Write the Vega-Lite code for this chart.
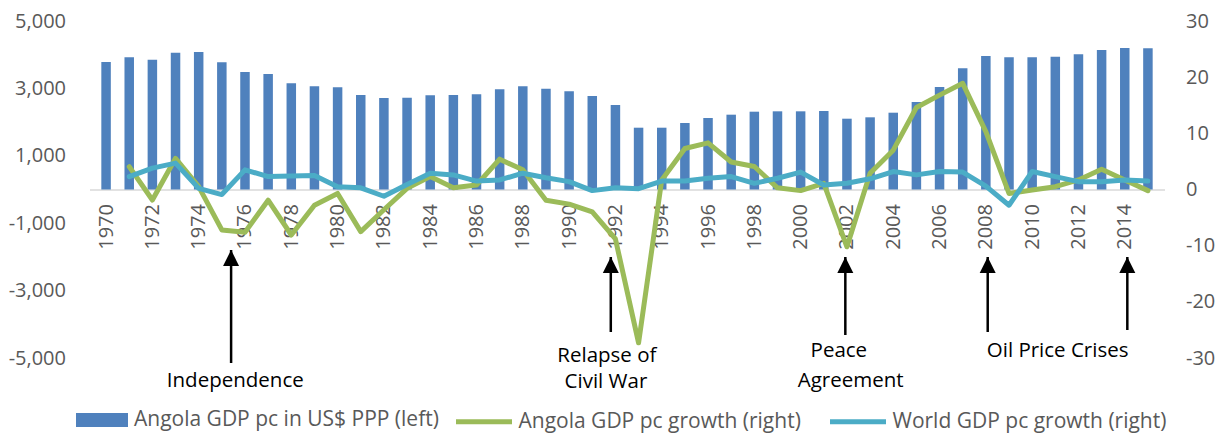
{
  "$schema": "https://vega.github.io/schema/vega-lite/v6.json",
  "width": 1075,
  "height": 337,
  "autosize": {"type": "none"},
  "padding": {"left": 89.5, "top": 21, "right": 61.5, "bottom": 76},
  "background": "white",
  "config": {
    "view": {"stroke": null},
    "font": "Open Sans",
    "axis": {"labelFont": "Open Sans", "labelColor": "#595959", "labelFontSize": 20, "grid": false, "ticks": false, "title": null},
    "legend": {"labelFont": "Open Sans", "labelColor": "#595959", "labelFontSize": 21, "padding": 0, "labelLimit": 600}
  },
  "datasets": {
    "main": [
      {"year": 1970, "gdp": 3783, "ang": null, "wld": null},
      {"year": 1971, "gdp": 3923, "ang": 4.06, "wld": 2.3},
      {"year": 1972, "gdp": 3852, "ang": -1.87, "wld": 3.8},
      {"year": 1973, "gdp": 4059, "ang": 5.55, "wld": 4.7},
      {"year": 1974, "gdp": 4080, "ang": 0.5, "wld": 0.2},
      {"year": 1975, "gdp": 3774, "ang": -7.2, "wld": -0.9},
      {"year": 1976, "gdp": 3487, "ang": -7.6, "wld": 3.5},
      {"year": 1977, "gdp": 3427, "ang": -1.9, "wld": 2.3},
      {"year": 1978, "gdp": 3151, "ang": -8.1, "wld": 2.4},
      {"year": 1979, "gdp": 3062, "ang": -2.8, "wld": 2.5},
      {"year": 1980, "gdp": 3033, "ang": -0.7, "wld": 0.5},
      {"year": 1981, "gdp": 2804, "ang": -7.5, "wld": 0.3},
      {"year": 1982, "gdp": 2715, "ang": -3.6, "wld": -1.2},
      {"year": 1983, "gdp": 2724, "ang": 0.2, "wld": 0.9},
      {"year": 1984, "gdp": 2795, "ang": 2.3, "wld": 2.9},
      {"year": 1985, "gdp": 2804, "ang": 0.3, "wld": 2.6},
      {"year": 1986, "gdp": 2825, "ang": 0.8, "wld": 1.5},
      {"year": 1987, "gdp": 2973, "ang": 5.4, "wld": 1.7},
      {"year": 1988, "gdp": 3062, "ang": 3.5, "wld": 2.9},
      {"year": 1989, "gdp": 2991, "ang": -1.9, "wld": 2.1},
      {"year": 1990, "gdp": 2914, "ang": -2.6, "wld": 1.4},
      {"year": 1991, "gdp": 2774, "ang": -4.0, "wld": -0.2},
      {"year": 1992, "gdp": 2507, "ang": -8.8, "wld": 0.3},
      {"year": 1993, "gdp": 1834, "ang": -27.3, "wld": 0.15},
      {"year": 1994, "gdp": 1834, "ang": 1.7, "wld": 1.5},
      {"year": 1995, "gdp": 1973, "ang": 7.3, "wld": 1.5},
      {"year": 1996, "gdp": 2122, "ang": 8.3, "wld": 2.0},
      {"year": 1997, "gdp": 2220, "ang": 4.9, "wld": 2.3},
      {"year": 1998, "gdp": 2309, "ang": 4.1, "wld": 1.1},
      {"year": 1999, "gdp": 2320, "ang": 0.3, "wld": 2.0},
      {"year": 2000, "gdp": 2320, "ang": -0.2, "wld": 3.1},
      {"year": 2001, "gdp": 2329, "ang": 1.1, "wld": 0.8},
      {"year": 2002, "gdp": 2101, "ang": -10.2, "wld": 1.1},
      {"year": 2003, "gdp": 2142, "ang": 2.9, "wld": 1.9},
      {"year": 2004, "gdp": 2279, "ang": 7.0, "wld": 3.2},
      {"year": 2005, "gdp": 2596, "ang": 14.6, "wld": 2.6},
      {"year": 2006, "gdp": 3042, "ang": 16.8, "wld": 3.2},
      {"year": 2007, "gdp": 3596, "ang": 18.9, "wld": 3.1},
      {"year": 2008, "gdp": 3961, "ang": 10.3, "wld": 0.6},
      {"year": 2009, "gdp": 3923, "ang": -0.7, "wld": -2.8},
      {"year": 2010, "gdp": 3923, "ang": -0.1, "wld": 3.2},
      {"year": 2011, "gdp": 3941, "ang": 0.5, "wld": 2.3},
      {"year": 2012, "gdp": 4012, "ang": 1.7, "wld": 1.4},
      {"year": 2013, "gdp": 4139, "ang": 3.6, "wld": 1.4},
      {"year": 2014, "gdp": 4199, "ang": 1.7, "wld": 1.7},
      {"year": 2015, "gdp": 4190, "ang": -0.2, "wld": 1.5}
    ],
    "arrows": [
      {"year": 1975.4, "tip": -1795, "tail": -5148},
      {"year": 1991.8, "tip": -2003, "tail": -4228},
      {"year": 2001.93, "tip": -2003, "tail": -4318},
      {"year": 2008.08, "tip": -2003, "tail": -4228},
      {"year": 2014.11, "tip": -2003, "tail": -4169}
    ],
    "labels": [
      {"year": 1975.58, "y": -5852, "label": "Independence"},
      {"year": 1991.63, "y": -5110, "label": "Relapse of"},
      {"year": 1991.59, "y": -5905, "label": "Civil War"},
      {"year": 2001.65, "y": -4979, "label": "Peace"},
      {"year": 2002.16, "y": -5846, "label": "Agreement"},
      {"year": 2011.1, "y": -4979, "label": "Oil Price Crises"}
    ]
  },
  "layer": [
    {
      "layer": [
        {
          "data": {"name": "main"},
          "mark": {"type": "bar", "size": 9.5, "clip": false},
          "encoding": {
            "x": {"field": "year", "type": "quantitative",
              "scale": {"domain": [1969.5, 2015.5], "nice": false, "zero": false},
              "axis": {"values": [1970,1972,1974,1976,1978,1980,1982,1984,1986,1988,1990,1992,1994,1996,1998,2000,2002,2004,2006,2008,2010,2012,2014],
                "format": "d", "labelAngle": 270, "offset": -168.5, "domainColor": "#D9D9D9", "domainWidth": 1.5, "labelPadding": 14, "title": null, "labelFlush": false, "labelOverlap": false}},
            "y": {"field": "gdp", "type": "quantitative",
              "scale": {"domain": [-5000, 5000], "nice": false, "zero": false},
              "axis": {"orient": "left", "values": [-5000, -3000, -1000, 1000, 3000, 5000], "labelExpr": "replace(format(datum.value, ','), '\u2212', '-')", "domain": false, "labelPadding": 24, "title": null}},
            "fill": {"datum": "Angola GDP pc in US$ PPP (left)",
              "scale": {"domain": ["Angola GDP pc in US$ PPP (left)"], "range": ["#4F81BD"]},
              "legend": {"title": null, "orient": "none", "legendX": -13.5, "legendY": 373, "symbolType": "M-1,-0.27H1V0.27H-1Z", "symbolSize": 2704, "symbolStrokeWidth": 0, "labelOffset": 6}}
          }
        },
        {
          "data": {"name": "arrows"},
          "mark": {"type": "rule", "color": "black", "strokeWidth": 2.5, "clip": false},
          "encoding": {
            "x": {"field": "year", "type": "quantitative"},
            "y": {"field": "tail", "type": "quantitative"},
            "y2": {"field": "tip"}
          }
        },
        {
          "data": {"name": "arrows"},
          "mark": {"type": "point", "shape": "M0,0L1,2L-1,2Z", "size": 256, "filled": true, "color": "black", "opacity": 1, "strokeWidth": 0, "clip": false},
          "encoding": {
            "x": {"field": "year", "type": "quantitative"},
            "y": {"field": "tip", "type": "quantitative"}
          }
        },
        {
          "data": {"name": "labels"},
          "mark": {"type": "text", "align": "center", "baseline": "alphabetic", "font": "Open Sans", "fontSize": 20.5, "color": "black", "clip": false},
          "encoding": {
            "x": {"field": "year", "type": "quantitative"},
            "y": {"field": "y", "type": "quantitative"},
            "text": {"field": "label"}
          }
        }
      ]
    },
    {
      "data": {"name": "main"},
      "layer": [
        {
          "mark": {"type": "line", "strokeWidth": 5, "strokeJoin": "round", "strokeCap": "round"},
          "encoding": {
            "x": {"field": "year", "type": "quantitative"},
            "y": {"field": "ang", "type": "quantitative",
              "scale": {"domain": [-30, 30], "nice": false, "zero": false},
              "axis": {"orient": "right", "values": [-30, -20, -10, 0, 10, 20, 30], "labelExpr": "replace(format(datum.value, 'd'), '\u2212', '-')", "domain": false, "labelPadding": 21, "title": null}},
            "stroke": {"datum": "Angola GDP pc growth (right)",
              "scale": {"domain": ["Angola GDP pc growth (right)", "World GDP pc growth (right)"], "range": ["#9BBB59", "#4BACC6"]},
              "legend": {"title": null, "orient": "none", "legendX": 364, "legendY": 370, "direction": "horizontal", "columns": 2, "columnPadding": 18, "symbolType": "stroke", "symbolSize": 3136, "symbolStrokeWidth": 5, "labelOffset": 4}}
          }
        },
        {
          "mark": {"type": "line", "strokeWidth": 5, "strokeJoin": "round", "strokeCap": "round"},
          "encoding": {
            "x": {"field": "year", "type": "quantitative"},
            "y": {"field": "wld", "type": "quantitative"},
            "stroke": {"datum": "World GDP pc growth (right)"}
          }
        }
      ]
    }
  ],
  "resolve": {"scale": {"y": "independent"}}
}
